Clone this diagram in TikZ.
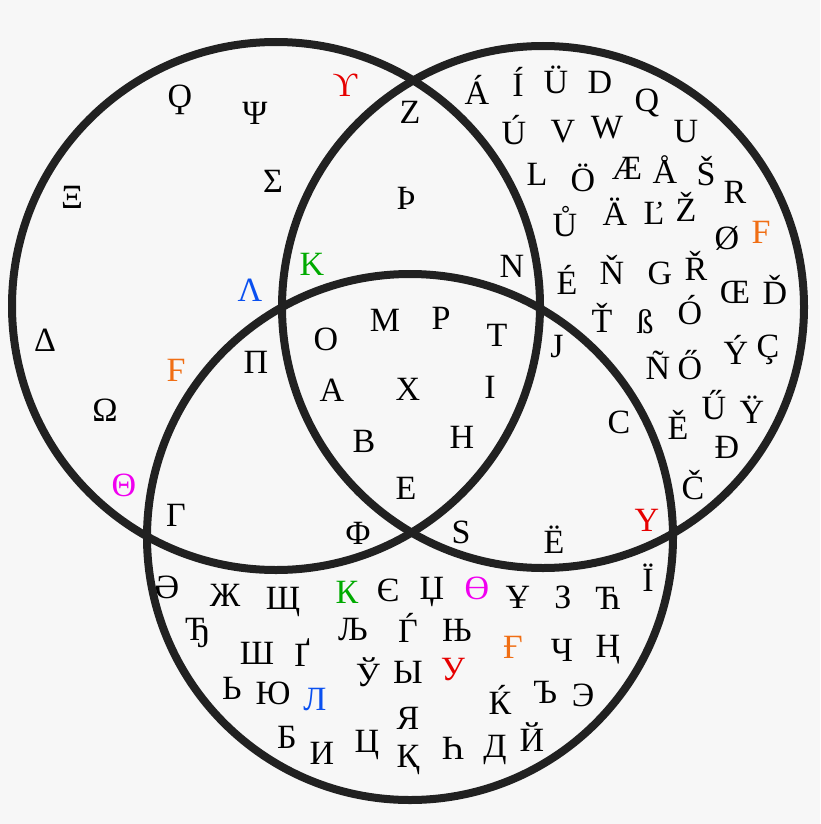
\documentclass[tikz,border=0pt]{standalone}
\usepackage{fontspec}
\setmainfont{Liberation Serif}
\begin{document}
\begin{tikzpicture}[x=1pt,y=-1pt,
  ring/.style={draw=black!87,line width=8pt},
  ch/.style={font=\fontsize{34}{36}\selectfont,inner sep=0pt},
  red/.style={ch,text={rgb,255:red,230;green,0;blue,0}},
  org/.style={ch,text={rgb,255:red,240;green,110;blue,20}},
  grn/.style={ch,text={rgb,255:red,0;green,170;blue,0}},
  blu/.style={ch,text={rgb,255:red,10;green,80;blue,240}},
  mag/.style={ch,text={rgb,255:red,240;green,0;blue,240}}]
\fill[black!3] (0,0) rectangle (820,824);
\useasboundingbox (0,0) rectangle (820,824);
\node[ring,circle,minimum size=528pt,inner sep=0pt] (L) at (276,306) {};
\node[ring,circle,minimum size=522pt,inner sep=0pt] (R) at (543,307) {};
\node[ring,circle,minimum size=526pt,inner sep=0pt] (B) at (410,537) {};
% left only
\foreach \t/\x/\y [count=\i] in {Ϙ/180/100,Ψ/255/113,Σ/273/181,Ξ/72/197,Δ/45/340,Ω/105/410}
  \node[ch] (g\i) at (\x,\y) {\t};
\node[red] (ups) at (345,85) {ϒ};
\node[blu] (lam) at (250,290) {Λ};
\node[org] (dig) at (176,370) {Ϝ};
\node[mag] (th) at (124,485) {Θ};
% left-right
\node[ch] (z) at (410,112) {Z};
\node[ch] (thorn) at (406,198) {Þ};
\node[grn] (kap) at (312,264) {Κ};
\node[ch] (n) at (512,266) {N};
% all
\foreach \t/\x/\y [count=\i] in {O/326/339,M/385/320,P/441/318,T/497/335,A/332/390,X/408/389,I/490/387,B/364/441,H/462/437,E/406/488}
  \node[ch] (c\i) at (\x,\y) {\t};
% left-bottom
\node[ch] (pi) at (256,362) {Π};
\node[ch] (gam) at (176,515) {Γ};
\node[ch] (phi) at (358,533) {Φ};
% right-bottom
\foreach \t/\x/\y [count=\i] in {J/557/347,C/619/422,S/461/532,Ë/554/540}
  \node[ch] (rb\i) at (\x,\y) {\t};
\node[red] (yy) at (647,520) {Y};
% right only
\foreach \t/\x/\y [count=\i] in {Á/477/90,Í/518/82,Ü/556/80,D/600/82,Q/647/103,Ú/514/130,V/563/132,W/607/128,U/686/132,L/537/174,Ö/583/178,Æ/627/168,Å/665/170,Š/706/171,R/735/192,Ů/565/222,Ä/615/212,Ľ/654/213,Ž/686/207,Ø/727/238,É/567/280,Ň/612/270,G/660/273,Ř/696/266,Œ/735/292,Ď/775/290,Ť/602/318,ß/645/322,Ó/690/310,Ý/736/350,Ç/768/350,Ñ/658/365,Ő/690/365,Ű/714/405,Ÿ/752/410,Ě/678/425,Đ/727/447,Č/693/485,Ï/648/578}
  \node[ch] (r\i) at (\x,\y) {\t};
\node[org] (ff) at (761,232) {F};
% bottom only
\foreach \t/\x/\y [count=\i] in {Ә/167/587,Ж/225/595,Щ/283/602,Є/388/590,Џ/432/592,Ұ/518/597,З/563/597,Ћ/608/598,Ђ/198/633,Ш/257/653,Ґ/302/653,Љ/353/630,Ѓ/408/628,Њ/457/630,Ч/562/650,Ң/608/650,Ь/232/688,Ю/273/693,Ў/368/672,Ы/408/672,Ќ/500/700,Ъ/545/692,Э/583/695,Б/287/737,И/322/753,Ц/367/745,Я/408/718,Қ/408/760,Һ/453/748,Д/495/750,Й/532/737}
  \node[ch] (b\i) at (\x,\y) {\t};
\node[grn] (ck) at (347,592) {К};
\node[mag] (co) at (477,588) {Ө};
\node[org] (cg) at (513,647) {Ғ};
\node[blu] (cl) at (315,700) {Л};
\node[red] (cu) at (453,670) {У};
\end{tikzpicture}
\end{document}
